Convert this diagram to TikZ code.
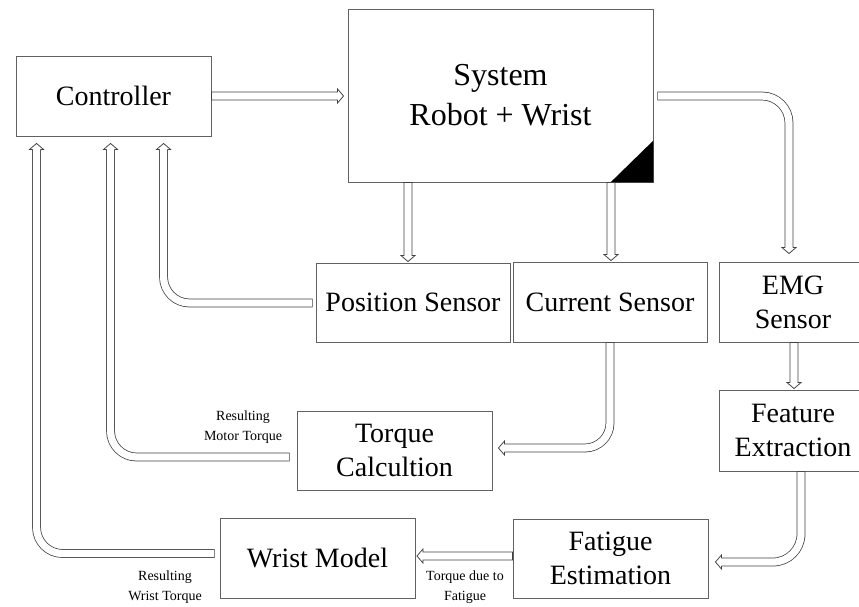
\documentclass[tikz,border=0pt]{standalone}
\usepackage{fontspec}
\setmainfont{Liberation Serif}
\usetikzlibrary{calc}

\tikzset{
  box/.style={draw=black!62, line width=0.9pt, fill=white, inner sep=0pt,
    align=center, font=\fontsize{28}{34}\selectfont},
  bigtext/.style={font=\fontsize{32}{40}\selectfont},
  tag/.style={inner sep=0pt, align=center, font=\fontsize{14}{19.5}\selectfont},
  arrowline/.style={draw=black!75, line width=0.75pt, line join=miter},
  % hollow bent shaft: two thin rails with a white core, closed at the tail
  shaft/.style={arrowline, double=white, double distance=7.25pt, line cap=rect},
  % open head for the bent shafts, tip at the origin, pointing along +x
  hhead/.pic={
    \fill[white] (-6,-7) -- (0,0) -- (-6,7) -- cycle;
    \draw[arrowline] (-6,4) -- (-6,7) -- (0,0) -- (-6,-7) -- (-6,-4);
  }
}

\begin{document}
\begin{tikzpicture}[x=1pt, y=-1pt]
\useasboundingbox (0,0) rectangle (859,607);

% blocks
\node[box, minimum width=195pt, minimum height=80pt] (ctrl) at (113.5,96) {Controller};
\node[box, bigtext, minimum width=305pt, minimum height=173pt] (sys) at (500.5,95.5) {System\\Robot + Wrist};
\fill[black] (sys.south east) -- ++(-43,0) -- ($(sys.south east)+(0,-42)$) -- cycle;
\node[box, minimum width=194pt, minimum height=79pt] (pos) at (413,302.5) {Position Sensor};
\node[box, minimum width=194pt, minimum height=80pt] (cur) at (610,302) {Current Sensor};
\node[box, minimum width=148pt, minimum height=80pt] (emg) at (793,302) {EMG\\Sensor};
\node[box, minimum width=148pt, minimum height=81pt] (feat) at (793,430.5) {Feature\\Extraction};
\node[box, minimum width=195pt, minimum height=79pt] (torq) at (394.5,450.5) {Torque\\Calcultion};
\node[box, minimum width=195pt, minimum height=80pt] (wrist) at (317.5,558) {Wrist Model};
\node[box, minimum width=195pt, minimum height=79pt] (fat) at (610.5,558.5) {Fatigue\\Estimation};

% labels on the feedback paths
\node[tag] (lmotor) at (243,427) {Resulting\\Motor Torque};
\node[tag] (lwrist) at (165,587) {Resulting\\Wrist Torque};
\node[tag] (lfat) at (465,587) {Torque due to\\Fatigue};

% arrow tips
\coordinate (t1) at ($(ctrl.east -| sys.west)+(-4,0)$);
\coordinate (t2) at ($(pos.north)+(-5,-1)$);
\coordinate (t3) at ($(cur.north)+(1,-1)$);
\coordinate (t4) at ($(emg.north)+(-4,-8)$);
\coordinate (t5) at ($(feat.north)+(1,-1)$);
\coordinate (t6) at ($(fat.east)+(7,3.5)$);
\coordinate (t7) at ($(torq.east)+(6,-2.5)$);
\coordinate (t8) at ($(wrist.east)+(1.5,-2)$);
\coordinate (t9) at ($(ctrl.south west)+(21,7)$);
\coordinate (t10) at ($(ctrl.south west)+(95,7)$);
\coordinate (t11) at ($(ctrl.south west)+(148,7)$);

% straight hollow arrows, each drawn as one closed outline
\draw[arrowline] ($(ctrl.east)+(0,-4)$) -- ($(t1)+(-6,-4)$) -- ($(t1)+(-6,-7)$) -- (t1)
  -- ($(t1)+(-6,7)$) -- ($(t1)+(-6,4)$) -- ($(ctrl.east)+(0,4)$) -- cycle;
\draw[arrowline] ($(t2 |- sys.south)+(-4,0)$) -- ($(t2)+(-4,-6)$) -- ($(t2)+(-7,-6)$) -- (t2)
  -- ($(t2)+(7,-6)$) -- ($(t2)+(4,-6)$) -- ($(t2 |- sys.south)+(4,0)$) -- cycle;
\draw[arrowline] ($(t3 |- sys.south)+(-4,0)$) -- ($(t3)+(-4,-6)$) -- ($(t3)+(-7,-6)$) -- (t3)
  -- ($(t3)+(7,-6)$) -- ($(t3)+(4,-6)$) -- ($(t3 |- sys.south)+(4,0)$) -- cycle;
\draw[arrowline] ($(t5 |- emg.south)+(-4,0)$) -- ($(t5)+(-4,-6)$) -- ($(t5)+(-7,-6)$) -- (t5)
  -- ($(t5)+(7,-6)$) -- ($(t5)+(4,-6)$) -- ($(t5 |- emg.south)+(4,0)$) -- cycle;
\draw[arrowline] ($(fat.west |- t8)+(0,-4)$) -- ($(t8)+(6,-4)$) -- ($(t8)+(6,-7)$) -- (t8)
  -- ($(t8)+(6,7)$) -- ($(t8)+(6,4)$) -- ($(fat.west |- t8)+(0,4)$) -- cycle;

% bent shafts: ends set back from each tip so the head closes them
\coordinate (e4) at ($(t4)+(0,-9.4)$);
\coordinate (e6) at ($(t6)+(9.4,0)$);
\coordinate (e7) at ($(t7)+(9.4,0)$);
\coordinate (e9) at ($(t9)+(0,9.4)$);
\coordinate (e10) at ($(t10)+(0,9.4)$);
\coordinate (e11) at ($(t11)+(0,9.4)$);

% bent shaft tails (the rect cap closes them)
\coordinate (s4) at ($(sys.east)+(8.4,0.5)$);
\coordinate (s6) at ($(feat.south)+(8,4.4)$);
\coordinate (s7) at ($(cur.south)+(0,4.4)$);
\coordinate (s9) at ($(wrist.west)+(-9.4,-4.5)$);
\coordinate (s10) at ($(torq.west)+(-11.4,6.5)$);
\coordinate (s11) at ($(pos.west)+(-7.4,0.5)$);

\draw[shaft, rounded corners=27pt] (s4) -- (s4 -| e4) -- (e4);
\pic[rotate=-90] at (t4) {hhead};
\draw[shaft, rounded corners=28pt] (s6) -- (s6 |- e6) -- (e6);
\pic[rotate=180] at (t6) {hhead};
\draw[shaft, rounded corners=25pt] (s7) -- (s7 |- e7) -- (e7);
\pic[rotate=180] at (t7) {hhead};

% feedback to the controller
\draw[shaft, rounded corners=26pt] (s9) -- (s9 -| e9) -- (e9);
\pic[rotate=90] at (t9) {hhead};
\draw[shaft, rounded corners=26pt] (s10) -- (s10 -| e10) -- (e10);
\pic[rotate=90] at (t10) {hhead};
\draw[shaft, rounded corners=26pt] (s11) -- (s11 -| e11) -- (e11);
\pic[rotate=90] at (t11) {hhead};
\end{tikzpicture}
\end{document}
